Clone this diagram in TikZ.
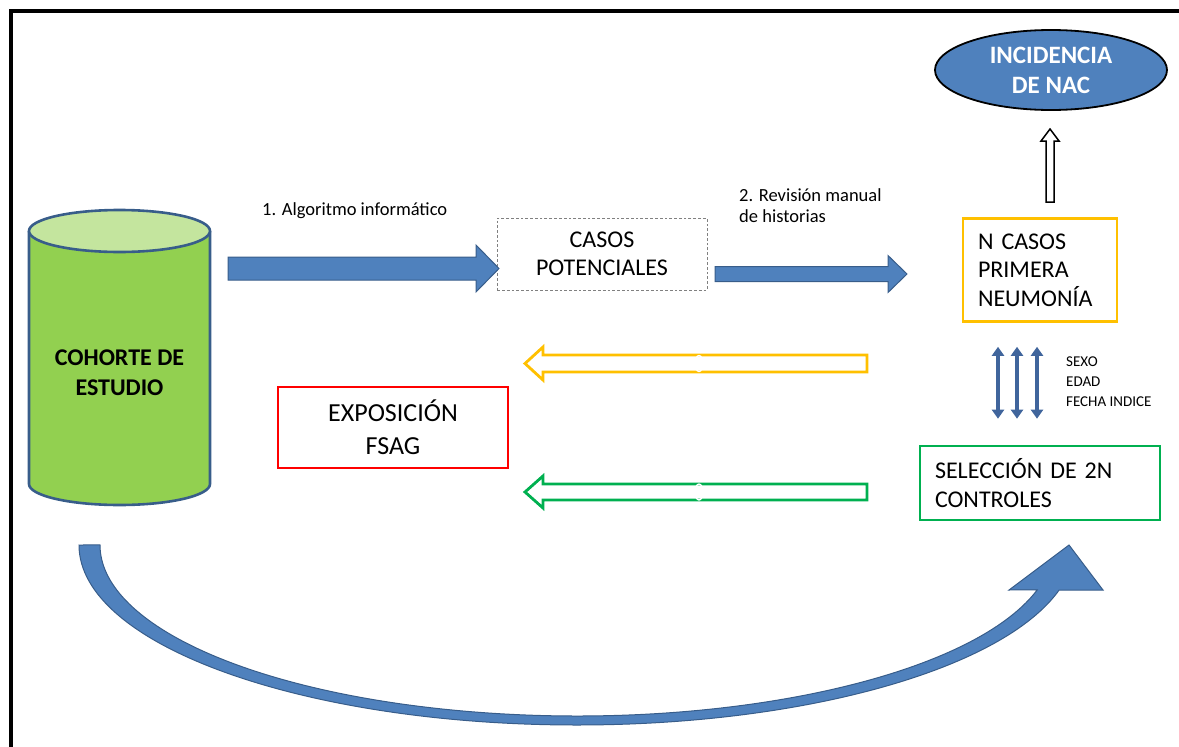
\documentclass[tikz,border=0pt]{standalone}
\usepackage{fontspec}
\setmainfont{Carlito}
\usetikzlibrary{shapes.geometric,arrows.meta}
\definecolor{blueFill}{HTML}{4F81BD}
\definecolor{blueLine}{HTML}{385D8A}
\definecolor{cylGreen}{HTML}{92D050}
\definecolor{cylTop}{HTML}{C4E59E}
\definecolor{casoYellow}{HTML}{FFC000}
\definecolor{ctrlGreen}{HTML}{00B050}
\definecolor{expoRed}{HTML}{FF0000}
\definecolor{matchBlue}{HTML}{40659C}
\begin{document}
\begin{tikzpicture}[x=1pt, y=-1pt,
  box/.style={draw, line width=2.6pt, inner sep=0pt},
  boxfont/.style={font=\fontsize{24}{28.5}\selectfont},
  label/.style={inner sep=0pt, align=left},
  bluearrow/.style={fill=blueFill, draw=blueLine, line width=1pt},
  yellowarrow/.style={draw=casoYellow, fill=white, line width=2.8pt},
  greenarrow/.style={draw=ctrlGreen, fill=white, line width=2.8pt},
  openarrow/.style={draw=black, fill=white, line width=1.5pt},
  matcharrow/.style={matchBlue, line width=3.5pt, {Triangle[length=9pt,width=12pt]}-{Triangle[length=9pt,width=12pt]}}]
  \useasboundingbox (0,0) rectangle (1179,747);
  % frame
  \draw[line width=3.5pt] (11,760) -- (11,11) -- (1190,11);
  % cohort cylinder
  \fill[cylGreen] (29,231) -- (29,484) arc[start angle=180, end angle=0, x radius=90.5, y radius=21] -- (210,231) -- cycle;
  \draw[blueLine, line width=2.6pt] (29,231) -- (29,484) arc[start angle=180, end angle=0, x radius=90.5, y radius=21] -- (210,231);
  \filldraw[fill=cylTop, draw=blueLine, line width=2.6pt] (119.5,231) ellipse[x radius=90.5, y radius=21];
  \node[font=\bfseries\fontsize{24}{30}\selectfont, align=center] (cohorte) at (119.5,373) {COHORTE DE\\ESTUDIO};

  \node[box, boxfont, draw=gray, dash dot, line width=0.8pt, minimum width=210pt, minimum height=72pt, align=center] (potenciales) at (602,254) {CASOS\\POTENCIALES};
  \node[box, boxfont, draw=casoYellow, text width=124pt, inner xsep=15pt, minimum height=103pt, align=left] (ncasos) at (1040,270) {N CASOS\\PRIMERA\\NEUMONÍA};
  \node[box, boxfont, draw=ctrlGreen, text width=210pt, inner xsep=15pt, minimum height=74pt, align=left] (controles) at (1040,483) {SELECCIÓN DE 2N\\CONTROLES};
  \node[box, font=\fontsize{26}{33}\selectfont, draw=expoRed, minimum width=230pt, minimum height=81pt, align=center] (exposicion) at (393,427.5) {EXPOSICIÓN\\FSAG};
  \node[ellipse, fill=blueFill, draw=black, line width=1.8pt, inner sep=0pt, minimum width=232pt, minimum height=80pt, text=white, align=center, font=\bfseries\fontsize{25}{30}\selectfont] (nac) at (1051,70) {INCIDENCIA\\DE NAC};

  \node[label, anchor=base west, font=\fontsize{18.5}{22}\selectfont] (algoritmo) at (262,215) {1. Algoritmo informático};
  \node[label, anchor=north west, font=\fontsize{18.5}{21}\selectfont] (revision) at (739,188) {2. Revisión manual\\de historias};
  \node[label, anchor=north west, font=\fontsize{15}{20}\selectfont] (variables) at (1066,357) {SEXO\\EDAD\\FECHA INDICE};

  % block arrows: start x / tip x / head x / centre y / half shaft / half head / style
  \foreach \xa/\xb/\xh/\yc/\sh/\hh/\st in {
      228/499/476/268.5/11.5/23.5/bluearrow,
      715/907/888/274/7.5/18.5/bluearrow,
      867/525/543/363.5/8.5/16.5/yellowarrow,
      867/525/543/492/8/16/greenarrow} {
    \draw[\st] (\xa,\yc-\sh) -- (\xh,\yc-\sh) -- (\xh,\yc-\hh) -- (\xb,\yc) -- (\xh,\yc+\hh) -- (\xh,\yc+\sh) -- (\xa,\yc+\sh) -- cycle;
  }
  \foreach \y in {363.5,492} \draw[white, line width=1.3pt] (699,\y) ellipse[x radius=4, y radius=8];
  \draw[openarrow] (1046,202) -- (1046,141) -- (1041,141) -- (1050,129) -- (1059,141) -- (1054,141) -- (1054,202) -- cycle;
  \foreach \dx in {-42,-23,-3}
    \draw[matcharrow, shorten <=24pt, shorten >=26pt] ([xshift=\dx pt]ncasos.south) -- ([xshift=\dx pt]controles.north);
  % curved arrow from the cohort to the controls
  \draw[bluearrow] (79,545) arc[start angle=180, end angle=14.5, x radius=498, y radius=180] -- (1103,590) -- (1069,545) -- (1009,590) -- (1037.3,589.8) arc[start angle=15.2, end angle=180, x radius=477, y radius=171] -- cycle;
\end{tikzpicture}
\end{document}
